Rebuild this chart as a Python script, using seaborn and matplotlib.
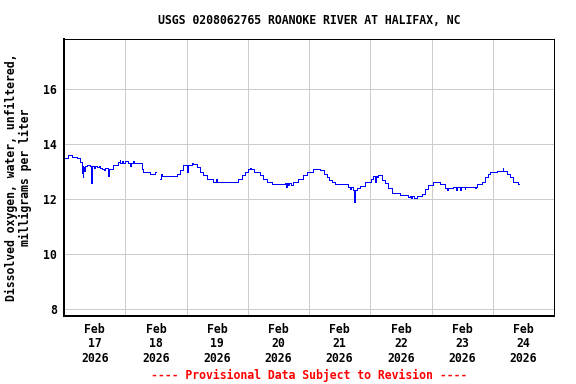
import numpy as np
import pandas as pd
import matplotlib
matplotlib.use("Agg")
import matplotlib.pyplot as plt
import matplotlib.dates as mdates
import seaborn as sns

# ---- data (hours after 2026-02-17 00:00, dissolved oxygen mg/L) ----
seg1_hours = [0.0, 1.7, 3.3, 5.2, 6.3, 6.9, 7.0, 7.2, 7.4, 7.6, 8.0, 8.2, 9.0, 10.0,
              10.7, 10.9, 11.8, 12.3, 13.0, 13.6, 14.2, 14.8, 15.6, 16.2, 17.4, 17.6,
              18.0, 19.3, 21.3, 21.8, 22.1, 22.6, 23.2, 24.0, 25.0, 25.9, 26.2, 27.0,
              27.6, 28.5, 30.4, 31.0, 33.7, 35.7, 36.0]
seg1_values = [13.49, 13.62, 13.54, 13.48, 13.36, 13.22, 12.95, 13.20, 12.81, 13.18, 13.02,
               13.22, 13.24, 13.20, 12.59, 13.20, 13.13, 13.22, 13.15, 13.22, 13.13, 13.10,
               13.05, 13.12, 12.84, 13.11, 13.11, 13.24, 13.36, 13.42, 13.33, 13.40, 13.33,
               13.38, 13.30, 13.20, 13.33, 13.38, 13.30, 13.30, 13.11, 12.99, 12.93, 12.99,
               12.99]

seg2_hours = [37.6, 38.0, 38.3, 44.2, 45.5, 46.7, 48.0, 48.3, 48.6, 50.0, 50.3, 50.7, 52.0,
              53.3, 54.6, 55.9, 58.5, 59.7, 60.0, 68.3, 69.6, 70.9, 72.2, 72.8, 73.2, 74.4,
              76.8, 78.1, 79.4, 81.4, 86.6, 87.0, 87.3, 87.8, 88.3, 89.0, 89.9, 91.8, 93.8,
              95.1, 97.4, 100.3, 101.9, 102.9, 103.9, 104.9, 106.2, 111.4, 112.0, 112.5,
              113.3, 113.7, 113.9, 115.0, 116.0, 117.9, 120.2, 121.0, 121.8, 122.1, 122.8,
              123.2, 124.5, 125.8, 127.1, 128.4, 131.6, 134.9, 135.5, 135.9, 136.4, 137.0,
              138.2, 140.1, 141.4, 142.7, 144.5, 147.3, 149.3, 150.0, 150.4, 152.5, 153.5,
              153.8, 155.2, 155.6, 157.0, 157.3, 160.4, 161.0, 161.4, 161.7, 163.7, 165.0,
              166.3, 166.9, 169.5, 171.9, 172.1, 173.5, 174.7, 176.0, 178.0, 178.4]
seg2_values = [12.72, 12.93, 12.84, 12.93, 13.05, 13.24, 13.15, 13.00, 13.24, 13.27, 13.33,
               13.27, 13.17, 12.99, 12.87, 12.73, 12.61, 12.72, 12.61, 12.73, 12.87, 12.99,
               13.09, 13.14, 13.09, 12.99, 12.87, 12.73, 12.61, 12.55, 12.57, 12.45, 12.57,
               12.50, 12.57, 12.52, 12.61, 12.72, 12.87, 12.99, 13.11, 13.05, 12.93, 12.81,
               12.69, 12.61, 12.55, 12.45, 12.36, 12.45, 12.33, 11.90, 12.33, 12.42, 12.48,
               12.61, 12.72, 12.84, 12.62, 12.84, 12.80, 12.86, 12.69, 12.57, 12.39, 12.23,
               12.15, 12.06, 12.12, 12.04, 12.10, 12.05, 12.12, 12.20, 12.35, 12.51, 12.61,
               12.55, 12.42, 12.34, 12.42, 12.43, 12.33, 12.43, 12.33, 12.43, 12.36, 12.43,
               12.45, 12.40, 12.45, 12.55, 12.63, 12.79, 12.93, 12.99, 13.02, 13.12, 13.02,
               12.93, 12.81, 12.63, 12.55, 12.55]

y_ticks = [8, 10, 12, 14, 16]
title = "USGS 0208062765 ROANOKE RIVER AT HALIFAX, NC"
ylabel = "Dissolved oxygen, water, unfiltered,\nmilligrams per liter"
footer = "---- Provisional Data Subject to Revision ----"

start = pd.Timestamp("2026-02-17")
df = pd.concat([
    pd.DataFrame({"hours": seg1_hours, "value": seg1_values, "seg": 1}),
    pd.DataFrame({"hours": seg2_hours, "value": seg2_values, "seg": 2}),
])
df["time"] = start + pd.to_timedelta(df["hours"], unit="h")

sns.set_style("white")
FONT = "DejaVu Sans Mono"
plt.rcParams["font.family"] = [FONT]
plt.rcParams["font.weight"] = "bold"
for k in ["text.color", "axes.labelcolor", "xtick.color", "ytick.color"]:
    plt.rcParams[k] = "black"

fig = plt.figure(figsize=(8, 384 / 72), dpi=72)
ax = fig.add_axes([64 / 576, 1 - 316 / 384, (554 - 64) / 576, (316 - 39) / 384])

sns.lineplot(data=df, x="time", y="value", units="seg", estimator=None,
             color="#0000ff", linewidth=1.0, drawstyle="steps-post", ax=ax,
             legend=False, antialiased=False)

ax.set_xlim(start, start + pd.Timedelta(days=8))
ax.set_ylim(7.75, 17.82)
ax.set_yticks(y_ticks)
ax.set_yticklabels([str(t) for t in y_ticks])

ax.xaxis.set_major_locator(mdates.DayLocator())
ax.xaxis.set_major_formatter(matplotlib.ticker.NullFormatter())
ax.xaxis.set_minor_locator(mdates.HourLocator(byhour=[12]))
ax.xaxis.set_minor_formatter(mdates.DateFormatter("%b\n%d\n%Y"))

ax.grid(True, which="major", color="#cccccc", linewidth=1.0, antialiased=False)
ax.set_axisbelow(True)
ax.tick_params(axis="both", which="both", length=0)
ax.tick_params(axis="y", pad=7, labelsize=11.5, labelcolor="black")
ax.tick_params(axis="x", which="minor", pad=7, labelsize=11.5, labelcolor="black")
for lab in ax.xaxis.get_minorticklabels():
    lab.set_linespacing(1.13)
    lab.set_fontweight("bold")
for lab in ax.get_yticklabels():
    lab.set_fontweight("bold")

for side in ["left", "bottom"]:
    ax.spines[side].set_linewidth(2.0)
for side in ["top", "right"]:
    ax.spines[side].set_linewidth(1.0)
for s in ax.spines.values():
    s.set_color("black")
    s.set_visible(True)

ax.set_xlabel("")
ax.set_ylabel(ylabel, fontsize=11.5, fontweight="bold", labelpad=11, linespacing=1.1,
              color="black")

fig.text(309 / 576, 1 - 20 / 384, title, ha="center", va="center",
         fontsize=11.5, fontweight="bold", color="black")
fig.text(309 / 576, 1 - 375 / 384, footer, ha="center", va="center",
         fontsize=11.5, fontweight="bold", color="red")

fig.savefig("out.png", dpi=72)
